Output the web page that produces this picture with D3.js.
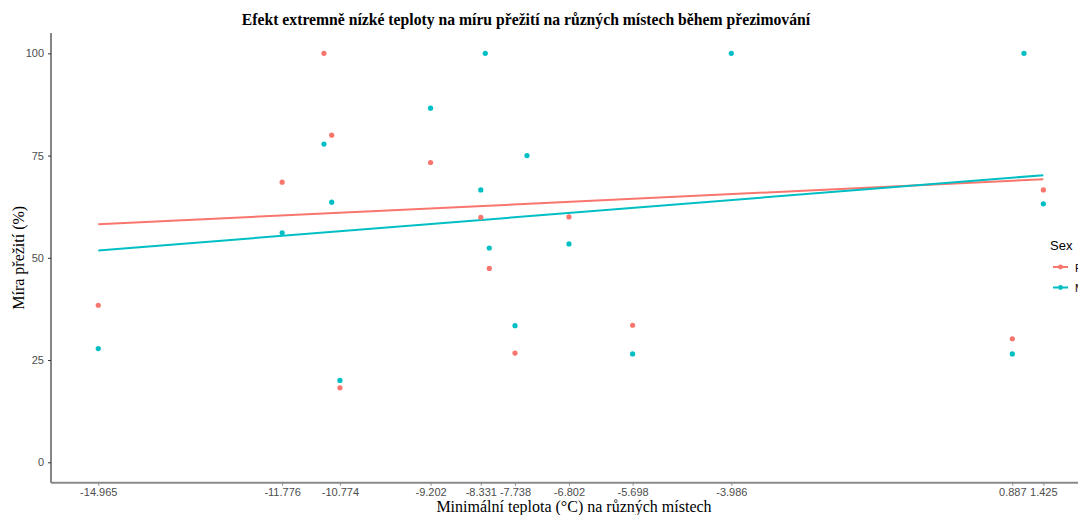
<!DOCTYPE html>
<html>
<head>
<meta charset="utf-8">
<script src="https://cdn.jsdelivr.net/npm/d3@7"></script>
<style>
  html, body { margin: 0; padding: 0; background: #fff; overflow: hidden; }
  svg { display: block; }
</style>
</head>
<body>
<div id="chart"></div>
<script>
// Minimum temperature per site (°C) and survival rate (%) by sex
const tempF = [-14.965, -11.776, -11.051, -10.917, -10.774, -9.202, -8.331, -8.184, -7.738, -6.802, -5.698, 0.887, 1.425];
const survF = [38.4, 68.5, 100, 80.0, 18.2, 73.3, 59.9, 47.4, 26.7, 60.0, 33.5, 30.2, 66.6];

const tempM = [-14.965, -11.776, -11.051, -10.917, -10.774, -9.202, -8.331, -8.253, -8.184, -7.738, -7.530, -6.802, -5.698, -3.986, 0.887, 1.089, 1.425];
const survM = [27.8, 56.1, 77.8, 63.6, 20.0, 86.6, 66.6, 100, 52.4, 33.4, 75.0, 53.4, 26.5, 100, 26.5, 100, 63.2];

// Linear trend endpoints for each sex
const fitX = [-14.965, 1.425];
const fitF = [58.2, 69.2];
const fitM = [51.8, 70.2];

const xTicks = [-14.965, -11.776, -10.774, -9.202, -8.331, -7.738, -6.802, -5.698, -3.986, 0.887, 1.425];
const yTicks = [0, 25, 50, 75, 100];

const sexes = ["F", "M"];
const colors = ["#F8766D", "#00BFC4"];

const W = 1078, H = 515;
const svg = d3.select("#chart").append("svg").attr("width", W).attr("height", H);

const x = d3.scaleLinear().domain([-15.7845, 2.2445]).range([51, 1090.6]);
const y = d3.scaleLinear().domain([-5, 105]).range([482.7, 32.9]);

// Title
svg.append("text")
  .attr("x", 526).attr("y", 25)
  .attr("text-anchor", "middle")
  .style("font-family", "'Liberation Serif', 'Times New Roman', serif")
  .style("font-weight", "bold")
  .style("font-size", "15.7px")
  .attr("fill", "#000")
  .text("Efekt extremně nízké teploty na míru přežití na různých místech během přezimování");

// Trend lines
const line = d3.line().x(d => x(d[0])).y(d => y(d[1]));
[fitF, fitM].forEach((fit, i) => {
  svg.append("path")
    .datum(fitX.map((v, j) => [v, fit[j]]))
    .attr("d", line)
    .attr("fill", "none")
    .attr("stroke", colors[i])
    .attr("stroke-width", 2);
});

// Points
[[tempF, survF], [tempM, survM]].forEach(([tx, sv], i) => {
  svg.append("g").selectAll("circle")
    .data(tx.map((v, j) => [v, sv[j]]))
    .join("circle")
    .attr("cx", d => x(d[0]))
    .attr("cy", d => y(d[1]))
    .attr("r", 2.6)
    .attr("fill", colors[i]);
});

// Y axis
const yAxis = svg.append("g")
  .attr("transform", "translate(51,0)")
  .call(d3.axisLeft(y).tickValues(yTicks).tickSize(3).tickPadding(4));
yAxis.select(".domain").attr("stroke", "#222").attr("stroke-width", 1.1)
  .attr("d", `M0,${y(105)}V${y(-5)}`);
yAxis.selectAll(".tick line").attr("stroke", "#333");
yAxis.selectAll(".tick text")
  .style("font-family", "'Liberation Sans', Arial, sans-serif")
  .style("font-size", "11px")
  .attr("fill", "#4d4d4d");

// X axis
const xAxis = svg.append("g")
  .attr("transform", `translate(0,${y(-5)})`)
  .call(d3.axisBottom(x).tickValues(xTicks).tickFormat(d => d.toFixed(3)).tickSize(3).tickPadding(3));
xAxis.select(".domain").attr("stroke", "#8a8a8a").attr("stroke-width", 2)
  .attr("d", `M51,0H${W}`);
xAxis.selectAll(".tick line").attr("stroke", "#8a8a8a");
xAxis.selectAll(".tick text")
  .style("font-family", "'Liberation Sans', Arial, sans-serif")
  .style("font-size", "11px")
  .attr("fill", "#4d4d4d");

// Axis titles
svg.append("text")
  .attr("x", 574).attr("y", 512)
  .attr("text-anchor", "middle")
  .style("font-family", "'Liberation Serif', 'Times New Roman', serif")
  .style("font-size", "16px")
  .attr("fill", "#000")
  .text("Minimální teplota (°C) na různých místech");

svg.append("text")
  .attr("transform", `translate(24,${y(50)}) rotate(-90)`)
  .attr("text-anchor", "middle")
  .style("font-family", "'Liberation Serif', 'Times New Roman', serif")
  .style("font-size", "16px")
  .attr("fill", "#000")
  .text("Míra přežití (%)");

// Legend
const legend = svg.append("g");
legend.append("text")
  .attr("x", 1050).attr("y", 250)
  .style("font-family", "'Liberation Sans', Arial, sans-serif")
  .style("font-size", "13px")
  .attr("fill", "#000")
  .text("Sex");
sexes.forEach((s, i) => {
  const ky = 267 + i * 20.5;
  legend.append("line")
    .attr("x1", 1053).attr("x2", 1068).attr("y1", ky).attr("y2", ky)
    .attr("stroke", colors[i]).attr("stroke-width", 2);
  legend.append("circle")
    .attr("cx", 1060.5).attr("cy", ky).attr("r", 2.4)
    .attr("fill", colors[i]);
  legend.append("text")
    .attr("x", 1075).attr("y", ky + 4.5)
    .style("font-family", "'Liberation Sans', Arial, sans-serif")
    .style("font-size", "11px")
    .attr("fill", "#000")
    .text(s);
});
</script>
</body>
</html>
